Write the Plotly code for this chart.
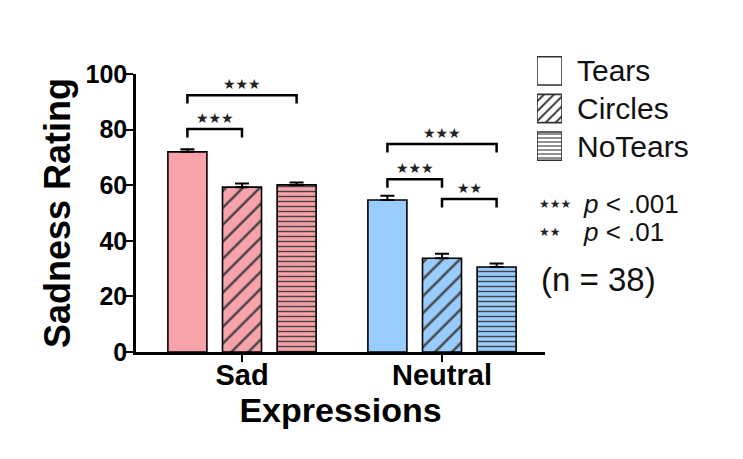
import plotly.graph_objects as go

# ---------------- data ----------------
groups = ["Sad", "Neutral"]
series = ["Tears", "Circles", "NoTears"]
means = {"Tears": [72.0, 54.7], "Circles": [59.3, 33.7], "NoTears": [60.1, 30.6]}
sems = {"Tears": [0.9, 1.5], "Circles": [1.3, 1.6], "NoTears": [0.9, 1.2]}
y_ticks = [0, 20, 40, 60, 80, 100]
# significance brackets: (group, series a, series b, bracket height, label)
brackets = [
    ("Sad", "Tears", "Circles", 80.2, "***"),
    ("Sad", "Tears", "NoTears", 92.4, "***"),
    ("Neutral", "Tears", "Circles", 62.1, "***"),
    ("Neutral", "Tears", "NoTears", 74.8, "***"),
    ("Neutral", "Circles", "NoTears", 55.0, "**"),
]
p_legend = [("***", "<i>p</i> < .001"), ("**", "<i>p</i> < .01")]
n_text = "(n = 38)"

# ---------------- styles ----------------
group_colors = ["#F8A2A9", "#99CCFF"]
patterns = {"Tears": "", "Circles": "/", "NoTears": "-"}
pat_size = {"Tears": 8, "Circles": 12, "NoTears": 5}
pat_solid = {"Tears": 0.2, "Circles": 0.2, "NoTears": 0.28}
offset_step = 0.273
bar_w = 0.195
FONT = "Liberation Sans, Arial, sans-serif"
STAR_FONT = "DejaVu Sans"


def star(s):
    return s.replace("*", "\u2605")


def xpos(group, s):
    return groups.index(group) + (series.index(s) - 1) * offset_step


fig = go.Figure()

for s in series:
    fig.add_trace(go.Bar(
        x=[xpos(g, s) for g in groups],
        y=means[s],
        width=bar_w,
        name=s,
        showlegend=False,
        marker=dict(
            color=group_colors,
            line=dict(color="black", width=1.6),
            pattern=dict(shape=patterns[s], fgcolor="#000000", fgopacity=1, fillmode="overlay",
                         size=pat_size[s], solidity=pat_solid[s]),
        ),
        error_y=dict(type="data", symmetric=False, array=sems[s],
                     arrayminus=[0] * len(groups), color="black", thickness=2, width=7),
        xaxis="x", yaxis="y",
    ))

# legend drawn as small bars on their own axis
for s in series:
    fig.add_trace(go.Bar(
        x=[1], y=[s], orientation="h", width=0.75, showlegend=False,
        marker=dict(color="white", line=dict(color="#333333", width=1.6),
                    pattern=dict(shape=patterns[s], fgcolor="#222222", fgopacity=1,
                                 fillmode="overlay",
                                 size=7 if s == "Circles" else 4, solidity=0.25)),
        xaxis="x2", yaxis="y2",
    ))

shapes = []
annotations = []
for g, a, b, h, lab in brackets:
    x1, x2 = xpos(g, a), xpos(g, b)
    tip = 3.0
    shapes.append(dict(type="path", xref="x", yref="y",
                       path=f"M {x1},{h - tip} L {x1},{h} L {x2},{h} L {x2},{h - tip}",
                       line=dict(color="black", width=2.5)))
    annotations.append(dict(x=(x1 + x2) / 2, y=h, xref="x", yref="y", text=star(lab),
                            showarrow=False, yanchor="bottom", yshift=1,
                            font=dict(family=STAR_FONT, size=14, color="#222222")))

# p-value key
W, H, L, T = 587.0, 302.0, 136.0, 50.0


def px(xp):
    return (xp - L) / W


def py(yp):
    return (352.0 - yp) / H


for i, (lab, txt) in enumerate(p_legend):
    yy = py(204 + i * 28)
    annotations.append(dict(x=px(537), y=yy, xref="paper", yref="paper", text=star(lab),
                            showarrow=False, xanchor="left", yanchor="middle",
                            font=dict(family=STAR_FONT, size=12, color="#222222")))
    annotations.append(dict(x=px(581), y=yy, xref="paper", yref="paper", text=txt,
                            showarrow=False, xanchor="left", yanchor="middle",
                            font=dict(family=FONT, size=26, color="#111111")))
annotations.append(dict(x=px(539), y=py(279), xref="paper", yref="paper", text=n_text,
                        showarrow=False, xanchor="left", yanchor="middle",
                        font=dict(family=FONT, size=33, color="#111111")))

fig.update_layout(
    width=743, height=459,
    margin=dict(l=136, r=20, t=50, b=107),
    paper_bgcolor="white", plot_bgcolor="white",
    barmode="overlay",
    font=dict(family=FONT, color="black"),
    shapes=shapes, annotations=annotations,
    xaxis=dict(
        domain=[0, 409 / W], range=[-0.53, 1.515],
        tickmode="array", tickvals=list(range(len(groups))), ticktext=groups,
        showline=True, linecolor="black", linewidth=2.5,
        ticks="outside", ticklen=7, tickwidth=2, tickcolor="black",
        showgrid=False, zeroline=False,
        ticklabelstandoff=-12,
        tickfont=dict(family=FONT, size=29, color="black", weight="bold"),
        title=dict(text="<b>Expressions</b>", font=dict(family=FONT, size=34, color="black"),
                   standoff=2),
        anchor="y",
    ),
    yaxis=dict(
        domain=[0, 278 / H], range=[0, 100],
        tickmode="array", tickvals=y_ticks,
        showline=True, linecolor="black", linewidth=2.5,
        ticks="outside", ticklen=7, tickwidth=2, tickcolor="black",
        showgrid=False, zeroline=False,
        ticklabelstandoff=-6,
        tickfont=dict(family=FONT, size=25, color="black", weight="bold"),
        title=dict(text="<b>Sadness Rating</b>", font=dict(family=FONT, size=36, color="black"),
                   standoff=4),
        anchor="x",
    ),
    xaxis2=dict(domain=[px(537), px(562)], range=[0, 1], anchor="y2",
                showticklabels=False, showgrid=False, zeroline=False, showline=False,
                fixedrange=True),
    yaxis2=dict(domain=[py(165), py(52)], anchor="x2", type="category",
                categoryorder="array", categoryarray=series, autorange="reversed",
                side="right", ticks="", showline=False, showgrid=False, zeroline=False,
                ticklabelstandoff=14,
                tickfont=dict(family=FONT, size=30, color="#111111")),
)

fig.write_html("out.html")
